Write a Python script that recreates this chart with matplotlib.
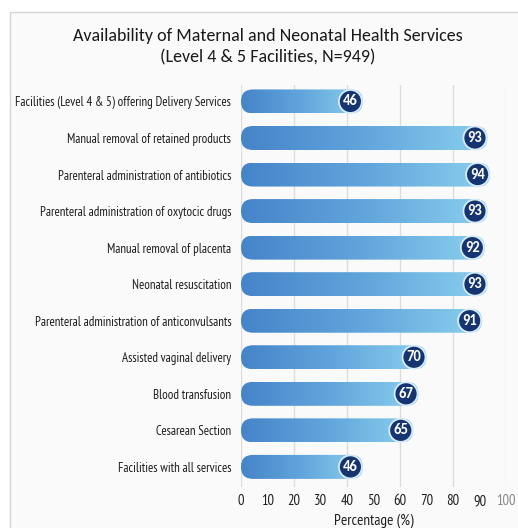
import numpy as np
import matplotlib.pyplot as plt
from matplotlib.patches import FancyBboxPatch, Rectangle, Ellipse
from matplotlib.colors import LinearSegmentedColormap

plt.rcParams['font.family'] = ['PT Sans Narrow', 'DejaVu Sans']
TITLE_FONT = ['Carlito', 'DejaVu Sans']

services = [
    "Facilities (Level 4 & 5) offering Delivery Services",
    "Manual removal of retained products",
    "Parenteral administration of antibiotics",
    "Parenteral administration of oxytocic drugs",
    "Manual removal of placenta",
    "Neonatal resuscitation",
    "Parenteral administration of anticonvulsants",
    "Assisted vaginal delivery",
    "Blood transfusion",
    "Cesarean Section",
    "Facilities with all services",
]
percent = [46, 93, 94, 93, 92, 93, 91, 70, 67, 65, 46]
xticks = [0, 10, 20, 30, 40, 50, 60, 70, 80, 90, 100]

W, H = 518, 528
fig = plt.figure(figsize=(W / 100, H / 100), dpi=100)
fig.patch.set_facecolor('white')

# light panel behind everything
bg = fig.add_axes([0, 0, 1, 1], zorder=-1)
bg.set_xlim(0, W)
bg.set_ylim(H, 0)
bg.axis('off')
bg.add_patch(Rectangle((10, 12), W + 20, H + 20, facecolor='#fafafa', edgecolor='#d6d6d6', lw=1.0))

ax = fig.add_axes([241 / W, 1 - 487 / H, (506 - 241) / W, (487 - 85) / H])
ax.set_facecolor('none')
n = len(services)

for g in range(0, 101, 20):
    ax.axvline(g, color='#dcdcdc', lw=1.0, zorder=1)

bar_cmap = LinearSegmentedColormap.from_list('bar', ['#4584c9', '#62a5dc', '#8ad0ee'])

# pixel size of one data unit on each axis
px_x = (506 - 241) / 100
px_y = (487 - 85) / n
bar_h = 24 / px_y
radius_x = 12 / px_x
aspect = (12 / px_y) / radius_x

grad = np.linspace(0, 1, 256).reshape(1, -1)
for i, v in enumerate(percent):
    box = FancyBboxPatch((0, i - bar_h / 2), v, bar_h,
                         boxstyle=f"round,pad=0,rounding_size={radius_x}",
                         mutation_aspect=aspect, facecolor='none', edgecolor='none', zorder=2)
    ax.add_patch(box)
    im = ax.imshow(grad, cmap=bar_cmap, aspect='auto', extent=(0, v, i + bar_h / 2, i - bar_h / 2),
                   zorder=2, interpolation='bicubic')
    im.set_clip_path(box)
    # value badge near the bar end
    cx = v - 12.5 / px_x
    ax.add_patch(Ellipse((cx, i), 23 / px_x, 23 / px_y, facecolor='#16346f',
                         edgecolor='#d6ebf7', lw=1.3, zorder=3))
    ax.text(cx, i, str(v), ha='center', va='center', color='white', fontsize=10.5,
            fontweight='bold', family=TITLE_FONT, zorder=4)

ax.set_xlim(0, 100)
ax.set_ylim(n - 0.5 + 0.05, -0.5 + 0.05)

ax.set_yticks(range(n))
ax.set_yticklabels(services, fontsize=9.3, color='#1e1e1e')
ax.set_xticks(xticks)
ax.set_xticklabels([str(t) for t in xticks], fontsize=10.5, color='#1e1e1e')
ax.get_xticklabels()[-1].set_color('#888888')
ax.tick_params(axis='y', length=0, pad=7)
ax.tick_params(axis='x', length=0, pad=5)
for s in ax.spines.values():
    s.set_visible(False)
ax.set_xlabel('Percentage (%)', fontsize=11, color='#1e1e1e', labelpad=4)

fig.text(0.5 + 9 / W, 1 - 36 / H, 'Availability of Maternal and Neonatal Health Services',
         ha='center', va='center', fontsize=13, color='#1a1a1a', family=TITLE_FONT)
fig.text(0.5 + 9 / W, 1 - 57 / H, '(Level 4 & 5 Facilities, N=949)',
         ha='center', va='center', fontsize=13, color='#1a1a1a', family=TITLE_FONT)

fig.savefig('out.png', dpi=100)
